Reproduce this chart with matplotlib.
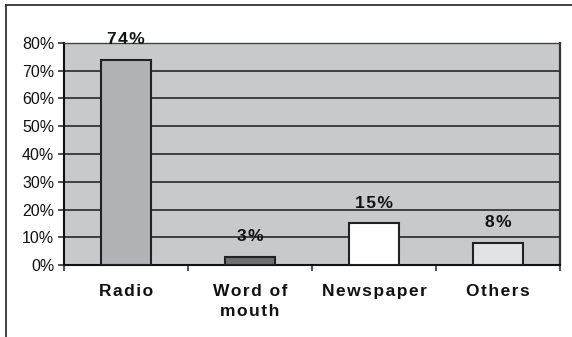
import numpy as np
import matplotlib
matplotlib.use("Agg")
import matplotlib.pyplot as plt
from matplotlib.lines import Line2D

categories = ["Radio", "Word of\nmouth", "Newspaper", "Others"]
shares = [74, 3, 15, 8]
value_labels = ["74%", "3%", "15%", "8%"]
bar_colors = ["#b1b2b5", "#6f7072", "#ffffff", "#e2e3e4"]
yticks = [0, 10, 20, 30, 40, 50, 60, 70, 80]

HAIR = "\u200a"


def spaced(s):
    # wide letter spacing like the original
    return "\n".join(HAIR.join(line) for line in s.split("\n"))


plt.rcParams["font.family"] = ["Liberation Sans", "DejaVu Sans"]

fig = plt.figure(figsize=(5.72, 3.37), dpi=100)
ax = fig.add_axes([64 / 572, 72 / 337, 496 / 572, 222 / 337])
ax.set_facecolor("#c8c9cb")

x = np.arange(len(categories))
bars = ax.bar(x, shares, width=0.41, color=bar_colors, edgecolor="#222222",
              linewidth=1.5, zorder=3)

for rect, lab in zip(bars, value_labels):
    ax.annotate(spaced(lab), (rect.get_x() + rect.get_width() / 2, rect.get_height()),
                xytext=(0, 9), textcoords="offset points", ha="center", va="bottom",
                fontsize=12.5, fontweight="bold", color="#111111", zorder=4,
                annotation_clip=False)

ax.set_xlim(-0.5, len(categories) - 0.5)
ax.set_ylim(0, 80)
ax.set_yticks(yticks)
ax.set_yticklabels([f"{v}%" for v in yticks], fontsize=11.5, color="#111111")
ax.yaxis.grid(True, color="#1a1a1a", linewidth=1.1, zorder=1)
ax.set_axisbelow(True)

ax.set_xticks(x)
ax.set_xticklabels([spaced(c) for c in categories], fontsize=12.5,
                   fontweight="bold", color="#111111", linespacing=1.35)
ax.set_xticks(np.arange(len(categories) + 1) - 0.5, minor=True)
ax.tick_params(axis="x", which="major", length=0, pad=14)
ax.tick_params(axis="x", which="minor", length=4, width=1.1, color="#222222")
ax.tick_params(axis="y", length=4, width=1.1, color="#222222", pad=3)

for side in ["left", "bottom"]:
    ax.spines[side].set_color("#111111")
    ax.spines[side].set_linewidth(1.5)
ax.spines["right"].set_color("#333333")
ax.spines["right"].set_linewidth(1.6)
ax.spines["top"].set_color("#444444")
ax.spines["top"].set_linewidth(1.0)

# outer frame (only top and left edges are visible)
fig.add_artist(Line2D([6 / 572, 6 / 572], [0, 1 - 4.5 / 337], transform=fig.transFigure,
                      color="#333333", linewidth=1.3))
fig.add_artist(Line2D([6 / 572, 1], [1 - 4.5 / 337, 1 - 4.5 / 337], transform=fig.transFigure,
                      color="#333333", linewidth=1.3))

fig.savefig("out.png", dpi=100)
